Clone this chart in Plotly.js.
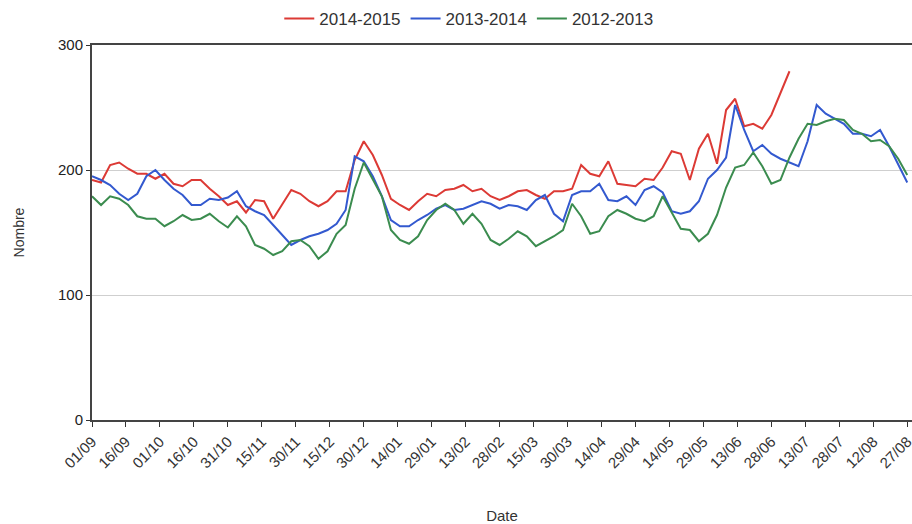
<!DOCTYPE html>
<html>
<head>
<meta charset="utf-8">
<script src="https://cdn.plot.ly/plotly-3.0.1.min.js"></script>
<style>html,body{margin:0;padding:0;background:#fff;}#chart{width:912px;height:524px;}</style>
</head>
<body>
<div id="chart"></div>
<script>
// Season start date and sampling step (days)
const startDate = '2014-09-01';
const stepDays = 4;
const seriesNames = ['2014-2015', '2013-2014', '2012-2013'];

const red2014 = [192,190,204,206,201,197,197,193,197,189,187,192,192,185,179,172,175,166,176,175,
  161,172,184,181,175,171,175,183,183,208,223,212,196,177,172,168,175,181,179,184,
  185,188,183,185,179,176,179,183,184,180,177,183,183,185,204,197,195,207,189,188,
  187,193,192,202,215,213,192,217,229,205,248,257,235,237,233,244,262,279];

const blue2013 = [195,192,188,181,176,181,195,200,192,185,180,172,172,177,176,178,183,171,167,164,
  156,148,140,144,147,149,152,157,168,211,207,195,179,160,155,155,160,164,169,172,
  168,169,172,175,173,169,172,171,168,176,180,165,159,180,183,183,189,176,175,179,
  172,184,187,182,167,165,167,175,193,200,210,252,232,215,220,213,209,206,203,223,
  252,245,241,237,229,229,227,232,219,204,190];

const green2012 = [179,172,179,177,172,163,161,161,155,159,164,160,161,165,159,154,163,155,140,137,
  132,135,143,144,139,129,135,149,156,185,206,193,179,152,144,141,147,160,168,173,
  168,157,165,157,144,140,145,151,147,139,143,147,152,173,163,149,151,163,168,165,
  161,159,163,179,166,153,152,143,149,164,186,202,204,214,203,189,192,210,225,237,
  236,239,241,240,232,229,223,224,219,209,196];

const colors = ['#dc3a35', '#3359cf', '#3b8c4f'];
const DAY = 86400000;
const t0 = Date.parse(startDate + 'T00:00:00Z');
function dates(n) {
  const out = [];
  for (let i = 0; i < n; i++) out.push(new Date(t0 + i * stepDays * DAY).toISOString().slice(0, 10));
  return out;
}
const allSeries = [red2014, blue2013, green2012];
const traces = allSeries.map((vals, i) => ({
  type: 'scatter', mode: 'lines', name: seriesNames[i],
  x: dates(vals.length), y: vals,
  line: {color: colors[i], width: 2}
}));

const fam = 'Liberation Sans, Arial, sans-serif';
const layout = {
  width: 912, height: 524,
  margin: {l: 92, r: 0, t: 45, b: 104},
  paper_bgcolor: '#fff', plot_bgcolor: '#fff',
  font: {family: fam, size: 13, color: '#333'},
  showlegend: true,
  legend: {orientation: 'h', xref: 'container', yref: 'container', x: 0.514, xanchor: 'center',
           y: 0.998, yanchor: 'top', font: {family: fam, size: 17, color: '#333'}},
  xaxis: {
    type: 'date',
    range: [startDate, new Date(t0 + 362.1 * DAY).toISOString()],
    tick0: startDate, dtick: 15 * DAY, tickformat: '%d/%m', tickangle: -45,
    ticklabeloverflow: 'allow',
    ticks: 'outside', ticklen: 5, tickcolor: '#333',
    showline: true, linecolor: '#444', linewidth: 2, mirror: true,
    showgrid: false, zeroline: false,
    tickfont: {family: fam, size: 15, color: '#333'},
    title: {text: 'Date', font: {family: fam, size: 15, color: '#333'}, standoff: 40}
  },
  yaxis: {
    range: [0, 300], tickvals: [0, 100, 200, 300],
    ticks: 'outside', ticklen: 4, tickcolor: '#333',
    showline: true, linecolor: '#444', linewidth: 2,
    showgrid: true, gridcolor: '#cfcfcf', gridwidth: 1, zeroline: false,
    tickfont: {family: fam, size: 15, color: '#222'},
    title: {text: 'Nombre', font: {family: fam, size: 14, color: '#333'}, standoff: 30}
  }
};
Plotly.newPlot('chart', traces, layout, {displayModeBar: false, staticPlot: true});
</script>
</body>
</html>
